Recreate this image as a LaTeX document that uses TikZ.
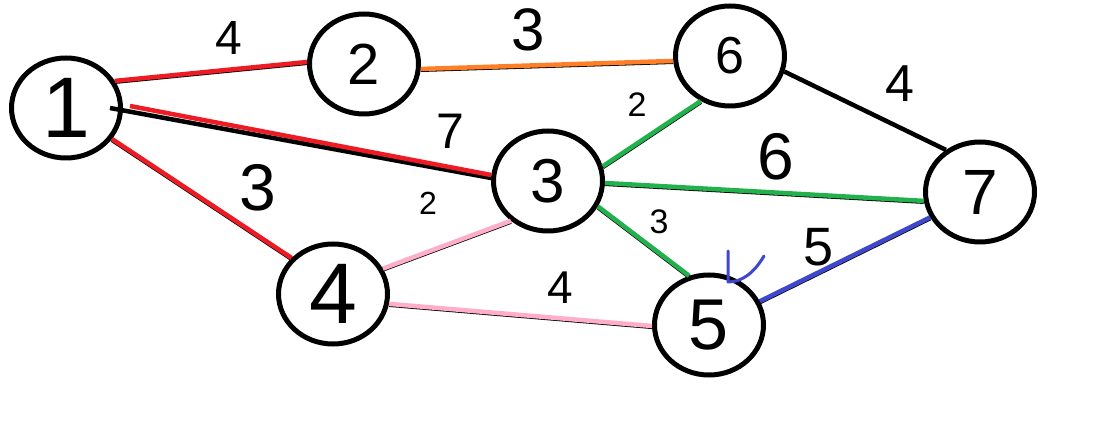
\documentclass[tikz,border=0pt]{standalone}
\usepackage{fontspec}
\setmainfont{Liberation Sans}
\usetikzlibrary{shapes.geometric,calc}
\definecolor{ered}{HTML}{ED1C24}
\definecolor{eorange}{HTML}{FF7F27}
\definecolor{egreen}{HTML}{22B14C}
\definecolor{epink}{HTML}{FFAEC9}
\definecolor{eblue}{HTML}{3F48CC}
\tikzset{
  vert/.style={ellipse, draw=black, line width=5pt, minimum width=109pt, minimum height=100pt, inner sep=0pt},
  edge/.style={line width=4.5pt},
  under/.style={preaction={draw=black, line width=4.5pt, transform canvas={yshift=-0.8pt}}},
  lab/.style={inner sep=0pt, text=black},
}
\newcommand{\fz}[1]{\fontsize{#1}{#1}\selectfont}
\begin{document}
\begin{tikzpicture}[x=1pt,y=1pt]
\useasboundingbox (0,0) rectangle (1096,423);
\fill[white] (0,0) rectangle (1096,423);
% vertices
\node[vert] (n1) at (66,315) {\fz{86}1};
\node[vert] (n2) at (364,359) {\fz{58}2};
\node[vert] (n6) at (730,367) {\fz{52}6};
\node[vert] (n3) at (548,242) {\fz{62}3};
\node[vert] (n7) at (980,231) {\fz{64}7};
\node[vert] (n4) at (333,129) {\fz{86}4};
\node[vert] (n5) at (709,98) {\fz{72}5};
% edges
\coordinate (c13b) at (110,315);
\coordinate (c13r) at (130,317);
\draw[edge, ered, under] (n1.29) -- (n2.178);
\draw[edge, eorange, under] (n2.-5) -- (n6.185);
\draw[edge, black] (n6.-16) -- (n7.129);
\draw[edge, black] (c13b) -- ($(n3.174)+(0,-3)$);
\draw[edge, ered] (c13r) -- (n3.174);
\draw[edge, ered, under] (n1.-34) -- (n4.139);
\draw[edge, epink, under] (n4.27) -- (n3.227);
\draw[edge, egreen, under] (n3.15) -- (n6.-123);
\draw[edge, egreen, under] (n3.-2) -- (n7.189);
\draw[edge, egreen, under] (n3.-27) -- (n5.112);
\draw[edge, epink, under] (n4.-10) -- (n5.181);
\draw[edge, eblue, under] (n5.25) -- (n7.207);
% edge labels
\node[lab] (l12) at (229,385) {\fz{48}4};
\node[lab] (l26) at (528,393) {\fz{60}3};
\node[lab] (l67) at (900,339) {\fz{52}4};
\node[lab] (l13) at (450,292) {\fz{50}7};
\node[lab] (l14) at (258,235) {\fz{66}3};
\node[lab] (l43) at (428,220) {\fz{32}2};
\node[lab] (l36) at (637,318) {\fz{34}2};
\node[lab] (l37) at (776,266) {\fz{66}6};
\node[lab] (l35) at (659,201) {\fz{34}3};
\node[lab] (l45) at (560,135) {\fz{46}4};
\node[lab] (l57) at (819,176) {\fz{54}5};
% blue mark
\draw[eblue, line width=3pt, line cap=round, line join=round]
  (728,172) -- (728,141) .. controls (742,141) and (754,150) .. (764,167);
\end{tikzpicture}
\end{document}
